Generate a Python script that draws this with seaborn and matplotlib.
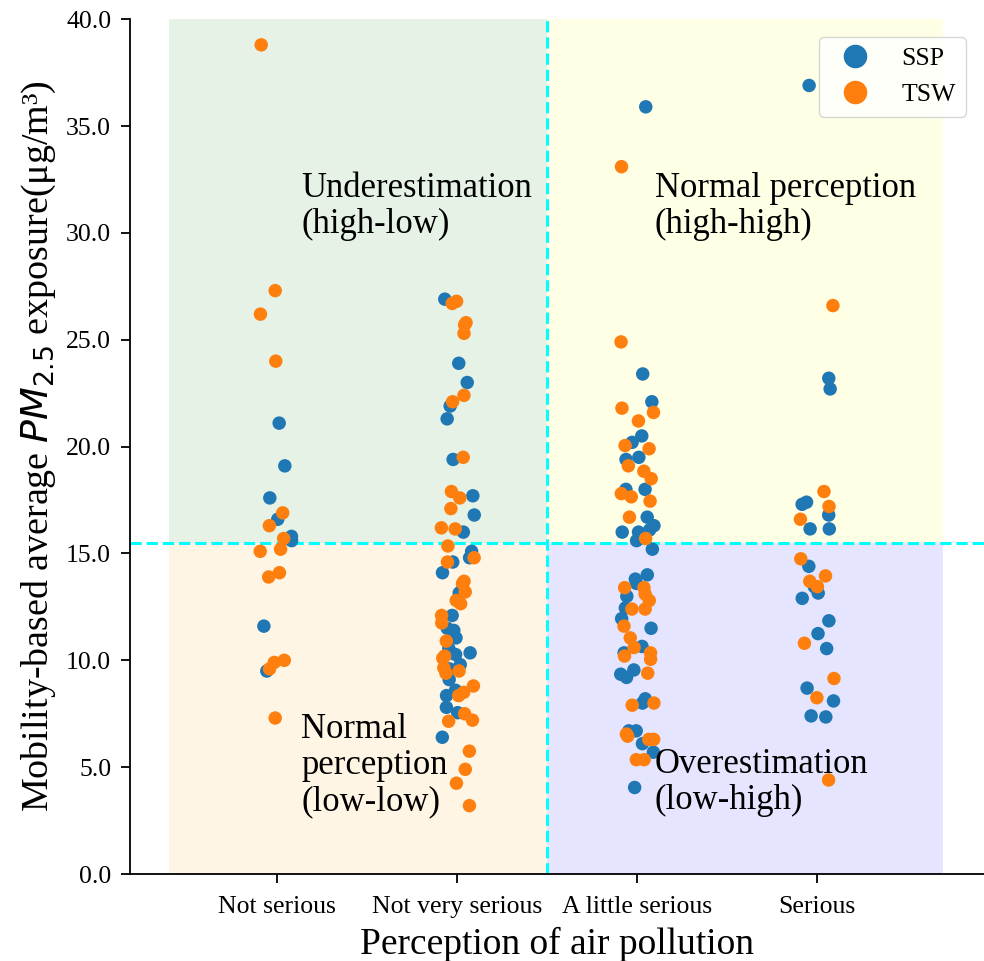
import numpy as np
import pandas as pd
import matplotlib
matplotlib.use("Agg")
import matplotlib.pyplot as plt
import seaborn as sns

categories = ["Not serious", "Not very serious", "A little serious", "Serious"]
groups = ["SSP", "TSW"]

ssp_not_serious = [21.1, 19.1, 17.6, 16.6, 15.8, 15.6, 11.6, 9.5]
tsw_not_serious = [38.8, 27.3, 26.2, 24.0, 16.9, 16.3, 15.7, 15.2, 15.1, 14.1,
                   13.9, 9.9, 9.6, 10.0, 7.3]

ssp_not_very = [26.9, 23.9, 23.0, 21.9, 21.3, 19.4, 17.7, 16.8, 16.0, 15.1, 14.8,
                14.6, 14.1, 13.35, 13.15, 12.1, 11.5, 11.4, 11.05, 10.55, 10.35,
                10.27, 10.35, 9.8, 9.6, 9.1, 8.6, 8.35, 7.8, 7.55, 6.4]
tsw_not_very = [26.8, 26.7, 25.7, 25.8, 25.3, 22.4, 22.1, 19.5, 17.9, 17.6, 17.1,
                16.15, 16.2, 15.35, 14.8, 14.6, 13.7, 13.6, 13.2, 12.8, 12.65,
                12.1, 11.75, 10.9, 10.2, 10.1, 9.65, 9.5, 9.4, 8.8, 8.5, 8.35,
                7.5, 7.15, 7.2, 5.75, 4.9, 4.25, 3.2]

ssp_little = [35.9, 23.4, 22.1, 20.5, 20.2, 19.5, 19.4, 18.0, 18.0, 16.7, 16.3,
              16.1, 16.0, 16.0, 15.6, 15.2, 14.0, 13.6, 13.8, 13.0, 12.45, 11.95,
              11.5, 10.65, 10.35, 9.55, 9.35, 9.2, 8.2, 8.0, 6.7, 6.7, 6.1, 5.7,
              4.05]
tsw_little = [33.1, 24.9, 21.8, 21.6, 21.2, 19.9, 20.05, 19.1, 18.85, 18.5, 17.65,
              17.8, 17.45, 16.7, 15.7, 13.4, 13.4, 12.8, 13.1, 12.4, 12.4, 11.6,
              11.05, 10.6, 10.35, 10.2, 10.05, 9.4, 8.0, 7.9, 6.55, 6.45, 6.3,
              6.3, 5.35, 5.35]

ssp_serious = [36.9, 23.2, 22.7, 17.3, 17.4, 16.8, 16.15, 16.15, 14.4, 13.45,
               13.15, 12.9, 11.85, 11.25, 10.55, 8.7, 8.1, 7.35, 7.4]
tsw_serious = [26.6, 17.9, 17.2, 16.6, 14.75, 13.95, 13.7, 13.45, 10.8, 9.15,
               8.25, 4.4]

quadrant_labels = ["Underestimation\n(high-low)", "Normal perception\n(high-high)",
                   "Normal\nperception\n(low-low)", "Overestimation\n(low-high)"]

series = {
    ("Not serious", "SSP"): ssp_not_serious,
    ("Not serious", "TSW"): tsw_not_serious,
    ("Not very serious", "SSP"): ssp_not_very,
    ("Not very serious", "TSW"): tsw_not_very,
    ("A little serious", "SSP"): ssp_little,
    ("A little serious", "TSW"): tsw_little,
    ("Serious", "SSP"): ssp_serious,
    ("Serious", "TSW"): tsw_serious,
}
rows = []
for (cat, grp), vals in series.items():
    for v in vals:
        rows.append({"Perception": cat, "Group": grp, "PM": v})
df = pd.DataFrame(rows)

plt.rcParams["font.family"] = ["Liberation Serif", "DejaVu Serif"]
plt.rcParams["mathtext.fontset"] = "dejavusans"

fig = plt.figure(figsize=(9.84, 9.61), dpi=100)
ax = fig.add_axes([0.132, 0.0905, 0.868, 0.8895])

np.random.seed(3)
sns.stripplot(data=df, x="Perception", y="PM", hue="Group", order=categories,
              hue_order=groups, palette=["#1f77b4", "#ff7f0e"], size=9.7,
              jitter=0.1, linewidth=0, ax=ax, zorder=3)

thr_x, thr_y = 1.5, 15.5
ax.fill_between([-0.6, thr_x], thr_y, 40, color="green", alpha=0.1, lw=0, zorder=0)
ax.fill_between([thr_x, 3.7], thr_y, 40, color="yellow", alpha=0.1, lw=0, zorder=0)
ax.fill_between([-0.6, thr_x], 0, thr_y, color="orange", alpha=0.1, lw=0, zorder=0)
ax.fill_between([thr_x, 3.7], 0, thr_y, color="blue", alpha=0.1, lw=0, zorder=0)
ax.axvline(thr_x, color="#00ffff", ls="--", lw=2.2, zorder=1)
ax.axhline(thr_y, color="#00ffff", ls="--", lw=2.2, zorder=1)

txt_kw = dict(fontsize=24.9, va="baseline", ha="left", linespacing=1.12, zorder=4)
ax.text(0.133, 30.0, quadrant_labels[0], **txt_kw)
ax.text(2.10, 30.0, quadrant_labels[1], **txt_kw)
ax.text(0.133, 3.0, quadrant_labels[2], **txt_kw)
ax.text(2.10, 3.04, quadrant_labels[3], **txt_kw)

ax.set_xlim(-0.82, 3.93)
ax.set_ylim(0, 40)
ax.set_yticks(np.arange(0, 40.1, 5))
ax.set_yticklabels([f"{t:.1f}" for t in np.arange(0, 40.1, 5)])
ax.tick_params(labelsize=18.5, length=6.5, width=1.3)
ax.tick_params(axis="x", pad=9.5)
ax.tick_params(axis="y", pad=7)
for s in ["left", "bottom"]:
    ax.spines[s].set_linewidth(1.3)
sns.despine(ax=ax)

ax.set_xlabel("Perception of air pollution", fontsize=27, labelpad=6)
ax.set_ylabel("Mobility-based average $PM_{2.5}$ exposure(μg/m³)", fontsize=27.4,
              labelpad=6)

handles, labels = ax.get_legend_handles_labels()
ax.legend(handles, labels, loc="upper right", fontsize=18.5, markerscale=1.75,
          frameon=True, borderaxespad=0.7)

fig.savefig("out.png", dpi=100)
